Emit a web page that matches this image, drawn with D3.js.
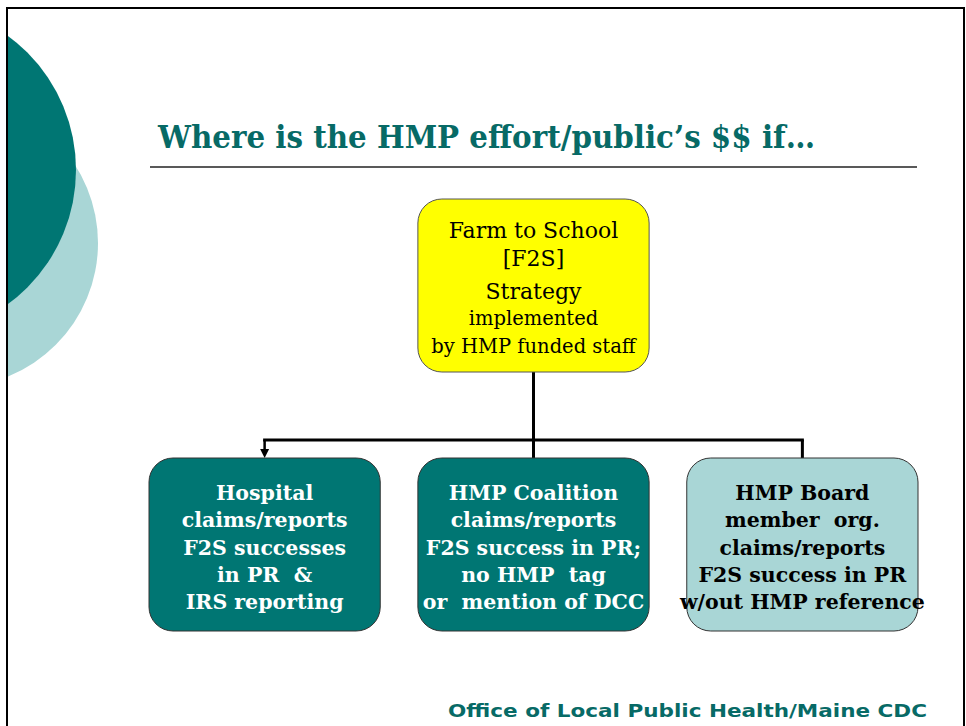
<!DOCTYPE html>
<html>
<head>
<meta charset="utf-8">
<script src="https://cdn.jsdelivr.net/npm/d3@7"></script>
<style>
  body { margin: 0; background: #fff; }
  svg { display: block; }
</style>
</head>
<body>
<div id="chart"></div>
<script>
// slide content
const titleText = "Where is the HMP effort/public’s $$ if…";
const footerText = "Office of Local Public Health/Maine CDC";
const rootLines = ["Farm to School", "[F2S]", "Strategy", "implemented", "by HMP funded staff"];
const rootLineSizes = [22, 22, 22, 19.5, 19.5];
const childNames = ["hospital", "coalition", "board"];
const childLines = [
  ["Hospital", "claims/reports", "F2S successes", "in PR  &", "IRS reporting"],
  ["HMP Coalition", "claims/reports", "F2S success in PR;", "no HMP  tag", "or  mention of DCC"],
  ["HMP Board", "member  org.", "claims/reports", "F2S success in PR", "w/out HMP reference"]
];
const childKinds = ["dark", "dark", "light"];
const arrowTargets = ["hospital"];

const width = 966, height = 726;
const teal = "#007673", paleTeal = "#a9d6d6", titleColor = "#076a66";
const serif = "'DejaVu Serif', 'Liberation Serif', serif";

const svg = d3.select("#chart")
  .append("svg")
  .attr("width", width)
  .attr("height", height)
  .attr("viewBox", [0, 0, width, height]);

const defs = svg.append("defs");
defs.append("clipPath").attr("id", "slide-clip")
  .append("rect").attr("x", 7).attr("y", 8).attr("width", 957).attr("height", 718);

// decorative circles on the left
const deco = svg.append("g").attr("clip-path", "url(#slide-clip)");
deco.append("circle").attr("cx", -46).attr("cy", 243).attr("r", 144).attr("fill", paleTeal);
deco.append("circle").attr("cx", -90).attr("cy", 170).attr("r", 166).attr("fill", teal);

// slide frame
svg.append("path")
  .attr("d", "M7,726 V8 H964 V726")
  .attr("fill", "none")
  .attr("stroke", "#000")
  .attr("stroke-width", 2);

// title
svg.append("text")
  .attr("x", 158).attr("y", 148)
  .attr("fill", titleColor)
  .style("font", `bold 31px ${serif}`)
  .attr("textLength", 657)
  .attr("lengthAdjust", "spacingAndGlyphs")
  .text(titleText);

svg.append("line")
  .attr("x1", 150).attr("x2", 917)
  .attr("y1", 167).attr("y2", 167)
  .attr("stroke", "#222").attr("stroke-width", 1.5);

// chart layout
const x = d3.scaleBand().domain(childNames).range([149, 918]).paddingInner(0.14);
const rootX = x("coalition"), rootW = x.bandwidth();
const rootTop = 199, rootH = 173;
const childTop = 458, childH = 173;
const busY = 440;
const cx = name => x(name) + x.bandwidth() / 2;

// connectors
const links = svg.append("g")
  .attr("fill", "none")
  .attr("stroke", "#000")
  .attr("stroke-width", 3);

links.append("line")
  .attr("x1", rootX + rootW / 2).attr("x2", rootX + rootW / 2)
  .attr("y1", rootTop + rootH).attr("y2", busY);

links.append("line")
  .attr("x1", cx(childNames[0]) - 1.5).attr("x2", cx(childNames[childNames.length - 1]) + 1.5)
  .attr("y1", busY).attr("y2", busY);

links.selectAll("line.drop")
  .data(childNames)
  .join("line")
  .attr("class", "drop")
  .attr("x1", d => cx(d)).attr("x2", d => cx(d))
  .attr("y1", busY)
  .attr("y2", d => arrowTargets.includes(d) ? childTop - 7 : childTop)
  .attr("stroke-width", d => arrowTargets.includes(d) ? 2.5 : 3);

// arrowheads
svg.append("g")
  .selectAll("path")
  .data(arrowTargets)
  .join("path")
  .attr("fill", "#000")
  .attr("d", d => {
    const p = d3.path();
    p.moveTo(cx(d) - 4.5, childTop - 9);
    p.lineTo(cx(d) + 4.5, childTop - 9);
    p.lineTo(cx(d), childTop);
    p.closePath();
    return p.toString();
  });

// root box
const root = svg.append("g");
root.append("rect")
  .attr("x", rootX).attr("y", rootTop)
  .attr("width", rootW).attr("height", rootH)
  .attr("rx", 24)
  .attr("fill", "#ffff00")
  .attr("stroke", "#555").attr("stroke-width", 1);

const rootBase = [238, 266, 299, 325, 353];
root.append("text")
  .attr("text-anchor", "middle")
  .style("font-family", serif)
  .selectAll("tspan")
  .data(rootLines)
  .join("tspan")
  .attr("x", rootX + rootW / 2)
  .attr("y", (d, i) => rootBase[i])
  .style("font-size", (d, i) => `${rootLineSizes[i]}px`)
  .text(d => d);

// child boxes
const child = svg.append("g")
  .selectAll("g")
  .data(childNames)
  .join("g");

child.append("rect")
  .attr("x", d => x(d)).attr("y", childTop)
  .attr("width", x.bandwidth()).attr("height", childH)
  .attr("rx", 24)
  .attr("fill", (d, i) => childKinds[i] === "dark" ? teal : paleTeal)
  .attr("stroke", "#333").attr("stroke-width", 1);

child.append("text")
  .attr("text-anchor", "middle")
  .attr("fill", (d, i) => childKinds[i] === "dark" ? "#fff" : "#000")
  .style("font", `bold 20.5px ${serif}`)
  .style("white-space", "pre")
  .selectAll("tspan")
  .data((d, i) => childLines[i].map(t => ({ name: d, t })))
  .join("tspan")
  .attr("x", d => cx(d.name))
  .attr("y", (d, j) => 500 + j * 27.3)
  .text(d => d.t);

// footer
svg.append("text")
  .attr("x", 448).attr("y", 717)
  .attr("fill", titleColor)
  .style("font", "bold 18px 'DejaVu Sans', Verdana, sans-serif")
  .attr("textLength", 479)
  .attr("lengthAdjust", "spacingAndGlyphs")
  .text(footerText);
</script>
</body>
</html>
